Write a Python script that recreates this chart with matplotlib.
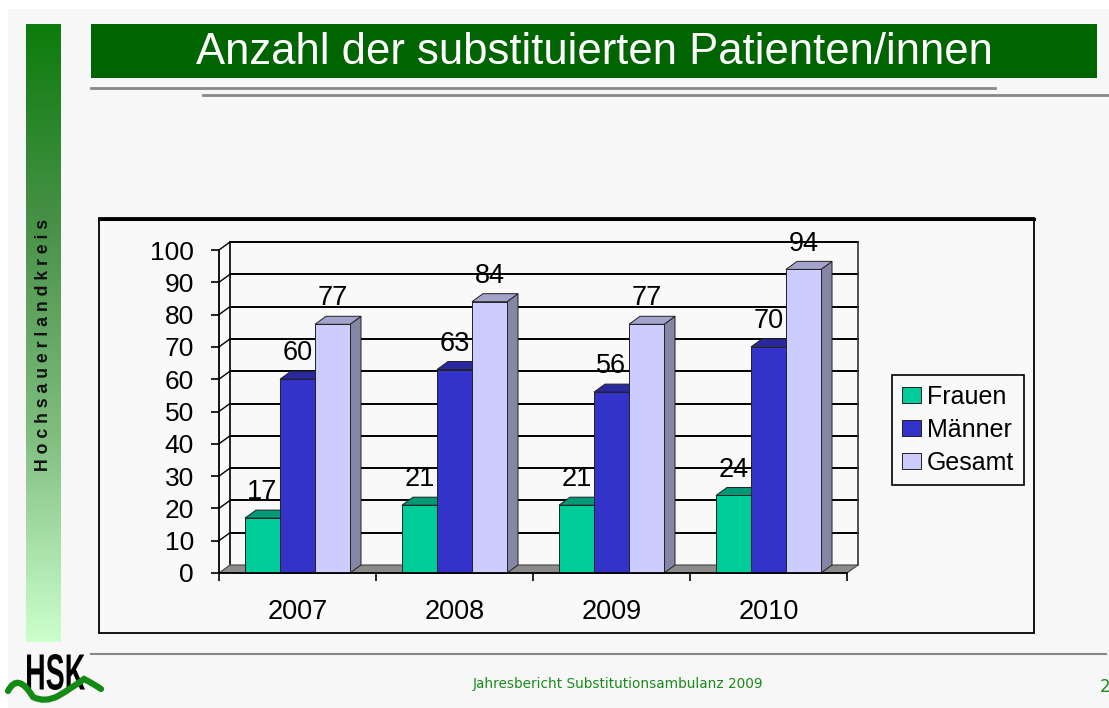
import numpy as np
import matplotlib
matplotlib.use("Agg")
import matplotlib.pyplot as plt
from matplotlib.patches import Rectangle, Polygon, PathPatch
from matplotlib.path import Path
from matplotlib.textpath import TextPath
from matplotlib.font_manager import FontProperties
from matplotlib.colors import LinearSegmentedColormap
import matplotlib.transforms as mtransforms

plt.rcParams['font.family'] = ['Liberation Sans', 'DejaVu Sans']

# data
years = ['2007', '2008', '2009', '2010']
frauen = [17, 21, 21, 24]
maenner = [60, 63, 56, 70]
gesamt = [77, 84, 77, 94]
series_names = ['Frauen', 'Männer', 'Gesamt']
yticks = list(range(0, 101, 10))

W, H = 1109, 708
fig = plt.figure(figsize=(W / 100, H / 100), dpi=100)
fig.patch.set_facecolor('white')

# background / decoration layer in pixel coords
bg = fig.add_axes([0, 0, 1, 1])
bg.set_xlim(0, W)
bg.set_ylim(H, 0)
bg.axis('off')

bg.add_patch(Rectangle((8, 9), W - 8, H - 9, facecolor='#f7f7f7', edgecolor='none'))

# left gradient stripe
cmap = LinearSegmentedColormap.from_list('stripe', ['#0c7c0c', '#4a924a', '#80be80', '#ccffcc'])
grad = np.linspace(0, 1, 256).reshape(-1, 1)
bg.imshow(grad, cmap=cmap, extent=(26, 61, 642, 24), aspect='auto', zorder=1)
bg.text(44, 345, 'H o c h s a u e r l a n d k r e i s', rotation=90, ha='center', va='center',
        fontsize=12.7, fontweight='bold', color='#111111', zorder=2)

# title bar
bg.add_patch(Rectangle((91, 24), 1006, 54, facecolor='#006400', edgecolor='none'))
bg.text(594, 52, 'Anzahl der substituierten Patienten/innen', color='white',
        ha='center', va='center', fontsize=31.4)
bg.plot([91, 995], [88, 88], color='#888888', lw=2)
bg.plot([203, 1109], [95, 95], color='#888888', lw=2)

# chart frame
bg.add_patch(Rectangle((99, 218), 935, 415, facecolor='#f9f9f9', edgecolor='black', lw=1.3))
bg.plot([99, 1034], [218.5, 218.5], color='black', lw=2.2)

# footer
bg.plot([91, 1106], [654, 654], color='#888888', lw=1.5)
bg.text(618, 684, 'Jahresbericht Substitutionsambulanz 2009', color='#1a8a1a',
        ha='center', va='center', fontsize=9.8, family='DejaVu Sans')
bg.text(1100, 687, '2', color='#1a8a1a', ha='left', va='center', fontsize=12, family='DejaVu Sans')

# HSK logo
tp = TextPath((0, 0), 'HSK', size=1, prop=FontProperties(family='Liberation Sans', weight='bold'))
ext = tp.get_extents()
sx = 58 / ext.width
sy = 36 / ext.height
tr = mtransforms.Affine2D().translate(-ext.x0, -ext.y0).scale(sx, -sy).translate(27, 690)
bg.add_patch(PathPatch(tr.transform_path(tp), facecolor='black', edgecolor='none', zorder=3))
wave = Path([(8, 691), (18, 672), (33, 697), (45, 703), (58, 696), (72, 688), (84, 679), (94, 684), (101, 689)],
            [Path.MOVETO, Path.CURVE3, Path.CURVE3, Path.CURVE3, Path.CURVE3, Path.CURVE3, Path.CURVE3,
             Path.CURVE3, Path.CURVE3])
bg.add_patch(PathPatch(wave, facecolor='none', edgecolor='#138a13', lw=4.5, capstyle='round', zorder=4))

# chart axes: front plane x -0.5..3.5 -> px 219..847, y 0..100 -> px 573..250
x0p, x1p, y0p, y1p = 219, 847, 573, 250
ax = fig.add_axes([x0p / W, 1 - y0p / H, (x1p - x0p) / W, (y0p - y1p) / H])
ax.set_xlim(-0.5, 3.5)
ax.set_ylim(0, 100)
ax.patch.set_visible(False)
for s in ['top', 'right']:
    ax.spines[s].set_visible(False)
for s in ['left', 'bottom']:
    ax.spines[s].set_color('black')
    ax.spines[s].set_linewidth(1.3)
    ax.spines[s].set_zorder(6)

dx = 11 / ((x1p - x0p) / 4)
dy = 8 / ((y0p - y1p) / 100)

# back wall, left wall, floor
for v in yticks[1:]:
    ax.plot([-0.5 + dx, 3.5 + dx], [v + dy, v + dy], color='black', lw=1.4, zorder=1, clip_on=False)
    ax.plot([-0.5, -0.5 + dx], [v, v + dy], color='black', lw=1.0, zorder=1, clip_on=False)
ax.plot([-0.5 + dx, -0.5 + dx], [dy, 100 + dy], color='black', lw=1.2, zorder=1, clip_on=False)
ax.plot([3.5 + dx, 3.5 + dx], [dy, 100 + dy], color='#333333', lw=1.2, zorder=1, clip_on=False)
ax.add_patch(Polygon([(-0.5, 0), (3.5, 0), (3.5 + dx, dy), (-0.5 + dx, dy)], closed=True,
                     facecolor='#8c8c8c', edgecolor='#444444', lw=0.8, zorder=2, clip_on=False))

fronts = ['#00cc99', '#3333cc', '#ccccff']
tops = ['#009977', '#2828a0', '#a3a3cc']
sides = ['#008866', '#1f1f80', '#8585a5']
bw = 0.223
xs = np.arange(len(years))
values = [frauen, maenner, gesamt]

handles = []
for i, vals in enumerate(values):
    for xc, v in zip(xs + (i - 1) * bw, vals):
        xl, xr = xc - bw / 2, xc + bw / 2
        ax.add_patch(Polygon([(xr, 0), (xr + dx, dy), (xr + dx, v + dy), (xr, v)], closed=True,
                             facecolor=sides[i], edgecolor='#222222', lw=0.7, zorder=3, clip_on=False))
        ax.add_patch(Polygon([(xl, v), (xr, v), (xr + dx, v + dy), (xl + dx, v + dy)], closed=True,
                             facecolor=tops[i], edgecolor='#222222', lw=0.7, zorder=3, clip_on=False))
    b = ax.bar(xs + (i - 1) * bw, vals, width=bw, color=fronts[i], edgecolor='#222222', lw=0.7,
               zorder=3, clip_on=False, label=series_names[i])
    handles.append(b)
    for xc, v in zip(xs + (i - 1) * bw, vals):
        ax.text(xc, v + 8, str(v), ha='center', va='center', fontsize=19.5, zorder=7)

ax.set_yticks(yticks)
ax.tick_params(axis='y', direction='out', length=6, width=1.2, pad=12, labelsize=19)
ax.set_xticks(xs)
ax.set_xticklabels(years)
ax.set_xticks(np.arange(-0.5, 3.6, 1), minor=True)
ax.tick_params(axis='x', which='major', length=0, pad=19, labelsize=19.5)
ax.tick_params(axis='x', which='minor', direction='out', length=6, width=1.2)

leg = fig.legend(handles=handles, labels=series_names, loc='upper left',
                 bbox_to_anchor=(892 / W, 1 - 375 / H), borderaxespad=0, fontsize=18,
                 frameon=True, fancybox=False, edgecolor='black', facecolor='#f9f9f9',
                 handlelength=0.75, handleheight=0.6, handletextpad=0.25, labelspacing=0.35,
                 borderpad=0.4)
leg.get_frame().set_linewidth(1.2)
leg.get_frame().set_alpha(1)

fig.savefig('out.png', dpi=100)
